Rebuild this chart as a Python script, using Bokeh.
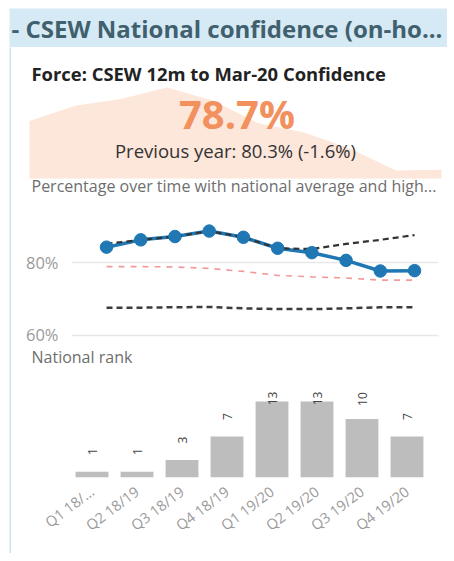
import math
from bokeh.plotting import figure
from bokeh.layouts import column, row
from bokeh.models import Range1d, FactorRange, FixedTicker, PrintfTickFormatter, ColumnDataSource
from bokeh.core.properties import value
from bokeh.embed import file_html
from bokeh.resources import INLINE

FONT = "Open Sans"

# ---------------- data ----------------
title_text = "- CSEW National confidence (on-ho..."
kpi_subtitle = "Force: CSEW 12m to Mar-20 Confidence"
kpi_value = 78.7
prev_value = 80.3
line_title = "Percentage over time with national average and high..."
bar_title = "National rank"

period_idx = [1, 2, 3, 4, 5, 6, 7, 8, 9, 10]
force_pct = [84.1, 86.1, 87.0, 88.5, 86.8, 83.8, 82.6, 80.5, 77.6, 77.7]
highest_pct = [85.0, 86.1, 87.0, 88.5, 86.8, 83.8, 83.6, 85.0, 86.1, 87.4]
national_avg_pct = [78.8, 78.8, 78.7, 78.3, 77.5, 76.4, 76.0, 75.7, 75.1, 75.1]
lowest_pct = [67.6, 67.6, 67.7, 67.8, 67.4, 67.2, 67.2, 67.4, 67.7, 67.7]
y_ticks = [60, 80]

quarters = ["Q1 18/...", "Q2 18/19", "Q3 18/19", "Q4 18/19",
            "Q1 19/20", "Q2 19/20", "Q3 19/20", "Q4 19/20"]
rank = [1, 1, 3, 7, 13, 13, 10, 7]

# ---------------- helpers ----------------
W = 436
COMMON = dict(output_backend="svg", toolbar_location=None, outline_line_color=None,
              frame_align=False, title=None)


def blank(w, h, x_range=None, y_range=None, **kw):
    p = figure(width=w, height=h,
               x_range=x_range if x_range is not None else Range1d(0, w),
               y_range=y_range if y_range is not None else Range1d(0, h),
               x_axis_type=None, y_axis_type=None, min_border=0, **COMMON, **kw)
    p.grid.visible = False
    return p


# ---------------- title bar (spans the card's left border) ----------------
H1 = 39
p_title = blank(W + 2, H1, background_fill_color="#D6EAF5", border_fill_color="#D6EAF5")
p_title.text(x=[2], y=[19], text=[title_text], text_font=value(FONT),
             text_font_size="24px", text_font_style="bold", text_color="#41606E",
             text_align="left", text_baseline="alphabetic")

# ---------------- KPI with sparkline ----------------
H2 = 153
kpi_prev_txt = f"Previous year: {prev_value:.1f}% ({kpi_value - prev_value:+.1f}%)"
p_kpi = blank(W, H2, x_range=Range1d(0.607, 10.131), y_range=Range1d(73.66, 93.75))
p_kpi.extra_x_ranges = {"px": Range1d(0, W)}
p_kpi.extra_y_ranges = {"px": Range1d(0, H2)}
spark_base = min(force_pct) - 1.05
p_kpi.varea(x=period_idx, y1=[spark_base] * len(force_pct), y2=force_pct,
            fill_color="#FDE6DA", fill_alpha=1.0)
p_kpi.text(x=[20], y=[127], text=[kpi_subtitle], x_range_name="px", y_range_name="px",
           text_font=value(FONT), text_font_size="18.4px", text_font_style="bold",
           text_color="#222222", text_align="left", text_baseline="alphabetic")
p_kpi.text(x=[225.5], y=[87.5], text=[f"{kpi_value:.1f}%"], x_range_name="px", y_range_name="px",
           text_font=value(FONT), text_font_size="40px", text_font_style="bold",
           text_color="#F2905E", text_align="center", text_baseline="alphabetic")
p_kpi.text(x=[224], y=[50], text=[kpi_prev_txt], x_range_name="px", y_range_name="px",
           text_font=value(FONT), text_font_size="18.5px", text_color="#333333",
           text_align="center", text_baseline="alphabetic")
p_kpi.text(x=[20], y=[15], text=[line_title], x_range_name="px", y_range_name="px",
           text_font=value(FONT), text_font_size="16px", text_color="#6E6E6E",
           text_align="left", text_baseline="alphabetic")

# ---------------- line chart ----------------
H3 = 145
p_line = figure(width=W, height=H3, x_range=Range1d(-0.023, 10.70), y_range=Range1d(59.18, 96.02),
                x_axis_location=None,
                min_border_left=60, min_border_right=9, min_border_top=3, min_border_bottom=7,
                **COMMON)
p_line.xgrid.visible = False
ax = p_line.yaxis[0]
ax.ticker = FixedTicker(ticks=y_ticks)
ax.formatter = PrintfTickFormatter(format="%d%%")
ax.axis_line_color = None
ax.major_tick_line_color = None
ax.minor_tick_line_color = None
ax.major_label_standoff = 7
ax.major_label_text_font = FONT
ax.major_label_text_font_size = "16.5px"
ax.major_label_text_color = "#9A9A9A"
p_line.ygrid.ticker = FixedTicker(ticks=y_ticks)
p_line.ygrid.grid_line_color = "#E8E8E8"
p_line.ygrid.grid_line_width = 1.5

src = ColumnDataSource(dict(x=period_idx, force=force_pct, high=highest_pct,
                            avg=national_avg_pct, low=lowest_pct))
p_line.line("x", "avg", source=src, line_color="#F29A9A", line_width=1.6, line_dash="6 6")
p_line.line("x", "low", source=src, line_color="#3C3C3C", line_width=2.5, line_dash="6 4")
p_line.line("x", "force", source=src, line_color="#1F77B4", line_width=3.5)
p_line.line("x", "high", source=src, line_color="#333333", line_width=2.2, line_dash="6 4")
p_line.scatter("x", "force", source=src, size=12.5, fill_color="#1F77B4", line_color="#1F77B4")

# ---------------- "National rank" caption ----------------
H4 = 24
p_cap = blank(W, H4)
p_cap.text(x=[20], y=[13], text=[bar_title], text_font=value(FONT), text_font_size="16px",
           text_color="#6E6E6E", text_align="left", text_baseline="alphabetic")

# ---------------- bar chart ----------------
H5 = 184
TOP_B = 16
FRAME_H = 92
y_end = 15.74
ppu = FRAME_H / y_end
p_bar = figure(width=W, height=H5, x_range=FactorRange(*quarters), y_range=Range1d(0, y_end),
               y_axis_location=None,
               min_border_left=58, min_border_right=18, min_border_top=TOP_B,
               min_border_bottom=H5 - TOP_B - FRAME_H,
               **COMMON)
p_bar.grid.visible = False
bx = p_bar.xaxis[0]
bx.axis_line_color = None
bx.major_tick_line_color = None
bx.minor_tick_line_color = None
bx.major_label_orientation = 0.65
bx.major_label_standoff = 6
bx.major_label_text_font = FONT
bx.major_label_text_font_size = "14.5px"
bx.major_label_text_color = "#9A9A9A"

label_y = [min(v + 20 / ppu, y_end - 13 / ppu) for v in rank]
bsrc = ColumnDataSource(dict(q=quarters, r=rank, ly=label_y, lt=[str(v) for v in rank]))
p_bar.vbar(x="q", top="r", width=0.73, source=bsrc, fill_color="#BDBDBD", line_color=None)
p_bar.text(x="q", y="ly", text="lt", source=bsrc, angle=math.pi / 2,
           text_font=value(FONT), text_font_size="12px", text_color="#444444",
           text_align="center", text_baseline="middle")

# ---------------- card left border ----------------
body = column(p_kpi, p_line, p_cap, p_bar, spacing=0)
H_BODY = H2 + H3 + H4 + H5
p_border = blank(2, H_BODY, background_fill_color="#CBE3F0", border_fill_color="#CBE3F0")

layout = column(p_title, row(p_border, body, spacing=0), spacing=0, margin=(8, 0, 0, 9))

with open("out.html", "w") as f:
    f.write(file_html(layout, INLINE))
